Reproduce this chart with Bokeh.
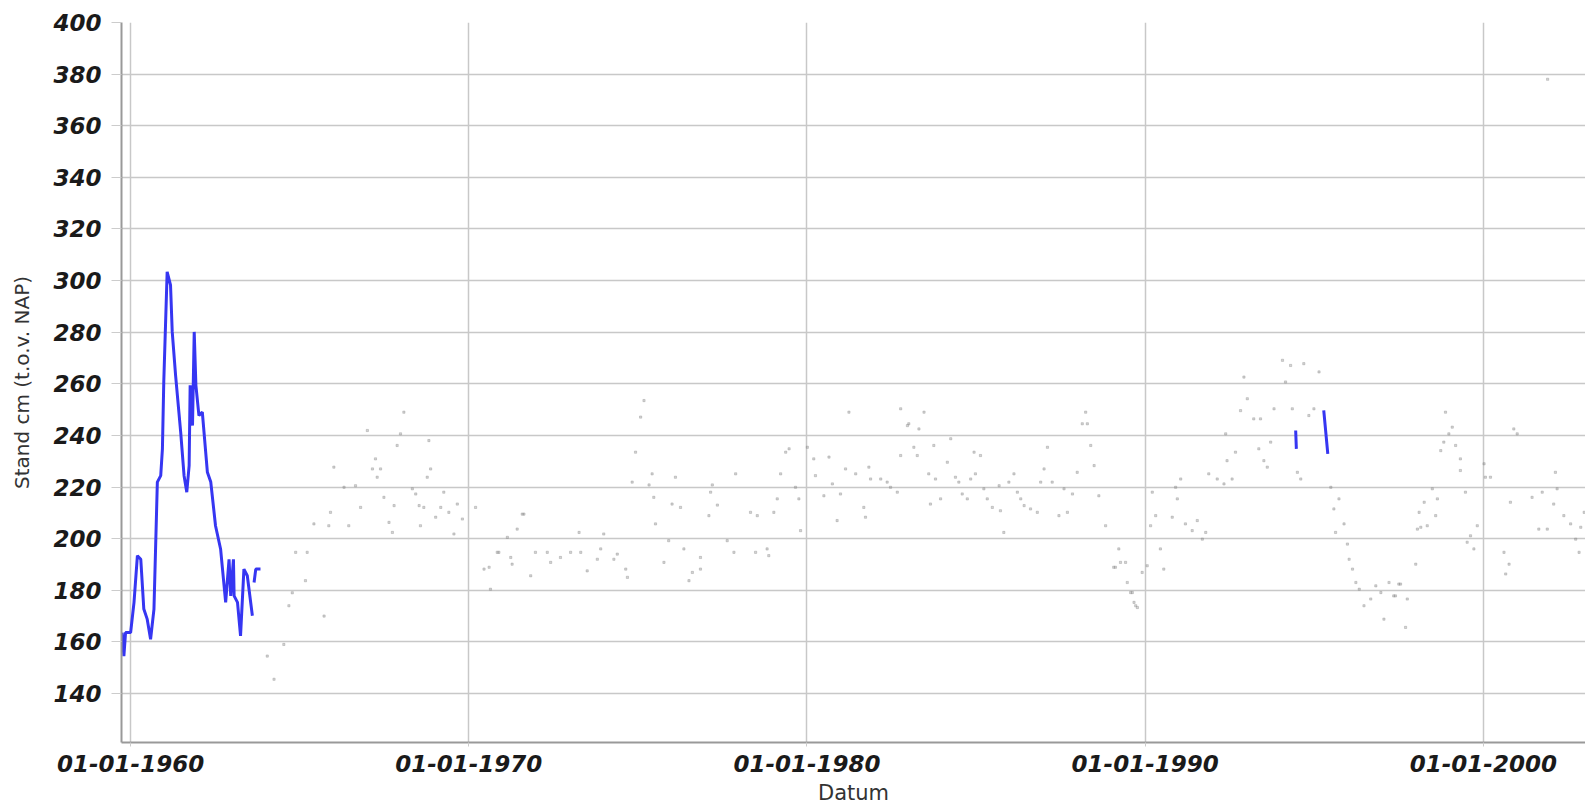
from bokeh.plotting import figure
from bokeh.models import Range1d, FixedTicker
from bokeh.embed import file_html
from bokeh.resources import INLINE

NaN = float("nan")

# Water level series (blue line), decimal years and cm t.o.v. NAP
blue_years = [1959.75, 1959.80, 1959.85, 1960.00, 1960.10, 1960.20, 1960.30, 1960.39,
              1960.49, 1960.59, 1960.69, 1960.79, 1960.89, 1960.94, 1960.98, 1961.08,
              1961.18, 1961.23, 1961.33, 1961.48, 1961.58, 1961.66, 1961.73, 1961.76,
              1961.83, 1961.88, 1961.93, 1962.02, 1962.12, 1962.27, 1962.37, 1962.51,
              1962.66, 1962.81, 1962.91, 1962.96, 1963.04, 1963.06, 1963.16, 1963.25,
              1963.35, 1963.45, 1963.60, NaN, 1963.65, 1963.70, 1963.84, NaN,
              1994.45, 1994.47, NaN, 1995.28, 1995.40]
blue_values = [163.6, 154.5, 163.6, 163.6, 175.3, 193.4, 192.0, 172.7,
               168.8, 161.0, 172.7, 221.9, 224.4, 234.8, 260.7, 303.4,
               298.2, 280.1, 263.2, 241.3, 224.4, 218.0, 228.3, 259.4,
               243.8, 280.1, 259.4, 247.7, 249.0, 225.7, 221.9, 205.0,
               196.0, 175.3, 192.0, 177.8, 192.0, 177.8, 175.3, 162.3,
               188.2, 185.6, 170.1, NaN, 183.0, 188.2, 188.2, NaN,
               241.9, 234.8, NaN, 249.7, 232.8]

# Faint individual readings (grey dots)
dot_years = [1964.04, 1964.53, 1964.24, 1964.68, 1964.78, 1965.17, 1964.88, 1965.22, 1965.72, 1965.42,
             1965.86, 1965.91, 1966.45, 1966.01, 1966.31, 1966.65, 1966.80, 1967.00, 1967.24, 1967.15,
             1967.39, 1967.29, 1967.49, 1967.79, 1967.64, 1967.74, 1967.98, 1968.08, 1967.88, 1968.33,
             1968.43, 1968.53, 1968.57, 1968.67, 1968.82, 1968.87, 1968.77, 1969.02, 1969.17, 1969.26,
             1969.41, 1969.66, 1969.81, 1969.56, 1970.20, 1970.45, 1970.60, 1970.84, 1971.24, 1971.14,
             1970.64, 1971.43, 1971.63, 1970.89, 1971.28, 1971.58, 1971.83, 1971.97, 1972.32, 1972.42,
             1972.71, 1973.01, 1973.26, 1973.31, 1973.50, 1973.80, 1973.90, 1973.99, 1974.29, 1974.39,
             1974.64, 1974.69, 1975.08, 1975.18, 1974.93, 1974.83, 1975.33, 1975.42, 1975.52, 1975.47,
             1975.77, 1975.91, 1976.01, 1976.11, 1976.26, 1976.36, 1976.51, 1976.61, 1976.85, 1976.85,
             1977.10, 1977.15, 1977.20, 1977.35, 1977.64, 1977.89, 1977.84, 1978.33, 1978.48, 1978.53,
             1978.82, 1978.87, 1979.02, 1979.12, 1979.22, 1979.37, 1979.47, 1979.66, 1979.76, 1979.81,
             1981.24, 1980.01, 1980.20, 1980.65, 1980.25, 1980.50, 1980.75, 1980.99, 1980.89, 1981.14,
             1981.44, 1981.68, 1981.73, 1981.88, 1981.83, 1982.18, 1982.37, 1982.47, 1982.67, 1982.77,
             1982.97, 1983.01, 1983.31, 1982.77, 1983.46, 1983.16, 1983.26, 1983.60, 1983.65, 1983.75,
             1983.80, 1983.95, 1984.15, 1984.25, 1984.39, 1984.49, 1984.59, 1984.74, 1984.84, 1984.94,
             1985.13, 1984.98, 1985.23, 1985.33, 1985.48, 1985.68, 1985.72, 1985.82, 1985.97, 1986.12,
             1986.22, 1986.32, 1986.42, 1986.61, 1986.81, 1986.91, 1987.01, 1987.11, 1987.25, 1987.45,
             1987.60, 1987.70, 1987.85, 1987.99, 1988.14, 1988.24, 1988.29, 1988.39, 1988.49, 1988.63,
             1988.83, 1989.22, 1989.27, 1989.42, 1989.07, 1989.47, 1989.62, 1989.72, 1989.12, 1989.57,
             1989.67, 1989.77, 1989.91, 1990.06, 1990.21, 1990.31, 1990.16, 1990.45, 1990.55, 1990.80,
             1990.95, 1990.90, 1991.19, 1991.39, 1991.54, 1991.69, 1991.79, 1991.05, 1991.88, 1992.13,
             1992.33, 1992.57, 1992.42, 1992.67, 1992.38, 1992.82, 1993.02, 1992.92, 1993.21, 1993.41,
             1993.36, 1993.51, 1993.61, 1993.71, 1993.81, 1994.06, 1994.15, 1994.35, 1994.30, 1994.69,
             1994.84, 1994.99, 1995.14, 1994.60, 1994.50, 1995.49, 1995.73, 1995.58, 1995.88, 1995.63,
             1995.98, 1996.03, 1996.13, 1996.23, 1996.33, 1996.47, 1996.67, 1996.82, 1996.97, 1997.06,
             1997.21, 1997.35, 1997.50, 1997.55, 1997.40, 1997.75, 1997.70, 1998.00, 1998.05, 1998.15,
             1998.34, 1998.10, 1998.25, 1998.49, 1998.59, 1998.64, 1998.74, 1998.83, 1998.88, 1998.98,
             1999.08, 1999.18, 1999.32, 1999.32, 1999.47, 1999.62, 1999.52, 1999.72, 1999.82, 2000.02,
             2000.06, 2000.21, 2000.61, 2000.66, 2000.76, 2000.80, 2000.90, 2001.00, 2001.44, 2001.74,
             2001.64, 2001.89, 2002.08, 2002.18, 2002.13, 2002.38, 2002.58, 2002.73, 2002.88, 2002.83,
             2002.98, 2001.90]
dot_values = [154.5, 159.0, 145.5, 174.0, 179.0, 183.7, 194.7, 194.7, 170.0, 205.7,
              205.0, 210.2, 205.0, 227.7, 219.9, 220.5, 212.1, 241.9, 230.9, 227.0,
              227.0, 223.8, 216.0, 212.8, 206.3, 202.4, 240.6, 249.0, 236.1, 219.3,
              217.3, 212.8, 205.0, 212.1, 238.0, 227.0, 223.8, 208.3, 212.1, 218.0,
              210.2, 213.4, 207.6, 201.8, 212.1, 188.2, 188.9, 194.7, 192.7, 200.5,
              180.4, 203.7, 209.5, 194.7, 190.1, 209.5, 185.6, 194.7, 194.7, 190.8,
              192.7, 194.7, 202.4, 194.7, 187.5, 192.0, 196.0, 201.8, 192.0, 194.0,
              188.2, 185.0, 247.1, 253.5, 233.5, 221.9, 220.8, 225.1, 205.7, 216.0,
              190.8, 199.2, 213.4, 223.8, 212.1, 196.0, 183.7, 186.9, 188.2, 192.7,
              208.9, 218.0, 220.8, 213.0, 199.2, 225.1, 194.7, 210.2, 194.7, 208.9,
              196.0, 193.4, 210.2, 215.4, 225.1, 233.5, 234.8, 219.9, 215.4, 203.1,
              249.0, 235.4, 230.9, 231.6, 224.4, 216.6, 221.2, 217.3, 207.0, 227.0,
              225.1, 212.1, 208.3, 223.1, 227.7, 223.1, 221.9, 219.9, 218.0, 232.2,
              243.8, 244.5, 242.5, 250.3, 249.0, 235.4, 232.2, 225.1, 213.4, 236.1,
              223.1, 215.4, 229.6, 238.7, 223.8, 221.9, 217.3, 215.4, 223.1, 233.5,
              232.2, 225.1, 219.3, 215.4, 212.1, 220.5, 210.8, 202.4, 221.9, 225.1,
              218.0, 215.4, 212.8, 211.5, 210.2, 221.9, 227.0, 235.4, 221.9, 208.9,
              219.3, 210.2, 217.3, 225.7, 244.5, 249.0, 244.5, 236.1, 228.3, 216.6,
              205.0, 196.0, 190.8, 190.8, 188.9, 183.0, 179.1, 174.0, 188.9, 179.1,
              175.3, 173.3, 186.9, 189.5, 218.0, 208.9, 205.0, 196.0, 188.2, 208.3,
              215.4, 219.9, 205.7, 203.1, 207.0, 199.8, 202.4, 223.1, 225.1, 223.1,
              221.2, 223.1, 230.2, 233.5, 240.6, 249.6, 254.2, 262.6, 246.4, 246.4,
              234.8, 230.2, 227.7, 237.4, 250.3, 269.1, 260.7, 250.3, 267.1, 267.8,
              247.7, 250.3, 264.6, 223.1, 225.7, 219.9, 215.4, 211.5, 205.7, 202.4,
              197.9, 192.0, 188.2, 183.0, 180.4, 174.0, 176.6, 181.7, 179.1, 168.8,
              183.0, 177.8, 182.4, 182.4, 177.8, 176.6, 165.6, 190.1, 203.7, 204.4,
              205.0, 210.2, 214.1, 219.3, 208.9, 215.4, 234.1, 237.4, 249.0, 240.6,
              243.2, 236.1, 230.9, 226.4, 218.0, 201.1, 198.6, 196.0, 205.0, 229.0,
              223.8, 223.8, 194.7, 186.3, 190.1, 214.1, 242.5, 240.6, 216.0, 218.0,
              203.7, 203.7, 213.4, 219.3, 225.7, 208.9, 205.7, 199.8, 204.4, 194.7,
              210.2, 378.0]

y_ticks = [140, 160, 180, 200, 220, 240, 260, 280, 300, 320, 340, 360, 380, 400]
x_ticks = [1960, 1970, 1980, 1990, 2000]
x_tick_labels = ["01-01-1960", "01-01-1970", "01-01-1980", "01-01-1990", "01-01-2000"]

p = figure(width=1585, height=807, output_backend="svg", toolbar_location=None,
           x_range=Range1d(1959.73, 2003.02), y_range=Range1d(121, 400),
           min_border_left=121, min_border_right=0, min_border_top=22, min_border_bottom=64)
p.outline_line_color = None
p.background_fill_color = "white"
p.border_fill_color = "white"

p.scatter(dot_years, dot_values, marker="square", size=2.2, color="#888888", alpha=0.35)
p.line(blue_years, blue_values, line_color="#3636f2", line_width=3)

for ax in (p.xaxis[0], p.yaxis[0]):
    ax.axis_line_color = "#999999"
    ax.axis_line_width = 2
    ax.major_tick_line_color = "#cccccc"
    ax.minor_tick_line_color = None
    ax.major_label_text_font = "DejaVu Sans"
    ax.major_label_text_font_style = "bold italic"
    ax.major_label_text_font_size = "23px"
    ax.major_label_text_color = "#1a1a1a"
    ax.axis_label_text_font = "DejaVu Sans"
    ax.axis_label_text_font_style = "normal"
    ax.axis_label_text_color = "#333333"

p.yaxis[0].ticker = FixedTicker(ticks=y_ticks)
p.yaxis[0].major_tick_in = 0
p.yaxis[0].major_tick_out = 10
p.yaxis[0].major_label_standoff = 10
p.yaxis[0].axis_label = "Stand cm (t.o.v. NAP)"
p.yaxis[0].axis_label_text_font_size = "20px"
p.yaxis[0].axis_label_standoff = 16

p.xaxis[0].ticker = FixedTicker(ticks=x_ticks)
p.xaxis[0].major_label_overrides = {t: l for t, l in zip(x_ticks, x_tick_labels)}
p.xaxis[0].major_tick_in = 0
p.xaxis[0].major_tick_out = 4
p.xaxis[0].major_label_standoff = 8
p.xaxis[0].axis_label = "Datum"
p.xaxis[0].axis_label_text_font_size = "21px"
p.xaxis[0].axis_label_standoff = 6

p.xgrid.grid_line_color = "#c8c8c8"
p.xgrid.grid_line_width = 1.5
p.ygrid.grid_line_color = "#c8c8c8"
p.ygrid.grid_line_width = 1.5

open("out.html", "w").write(file_html(p, INLINE))
